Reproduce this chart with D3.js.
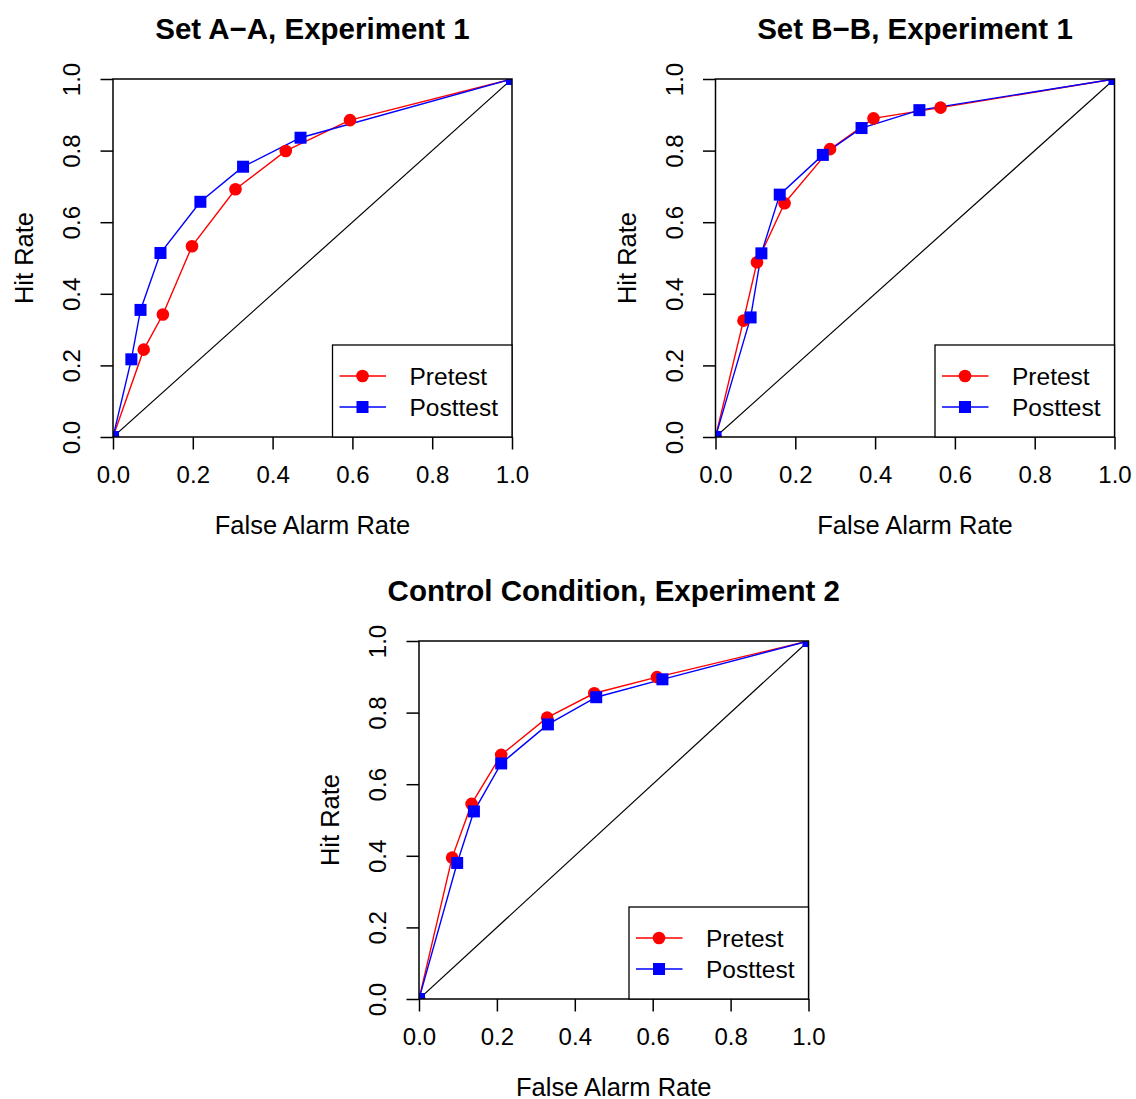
<!DOCTYPE html>
<html>
<head>
<meta charset="utf-8">
<script src="https://cdn.jsdelivr.net/npm/d3@7"></script>
<style>
  body { margin: 0; background: #fff; }
  svg { display: block; font-family: "Liberation Sans", Arial, sans-serif; }
</style>
</head>
<body>
<svg id="chart" width="1136" height="1099"></svg>
<script>
// ROC points (false alarm rate, hit rate)
const titles = ["Set A\u2212A, Experiment 1", "Set B\u2212B, Experiment 1", "Control Condition, Experiment 2"];
const seriesNames = ["Pretest", "Posttest"];
const tickValues = [0, 0.2, 0.4, 0.6, 0.8, 1.0];

const preA = [[0, 0], [0.077, 0.244], [0.125, 0.342], [0.198, 0.533], [0.307, 0.692], [0.433, 0.799], [0.594, 0.885], [1, 1]];
const postA = [[0, 0], [0.046, 0.217], [0.069, 0.355], [0.119, 0.514], [0.219, 0.657], [0.326, 0.755], [0.470, 0.836], [1, 1]];

const preB = [[0, 0], [0.070, 0.325], [0.104, 0.488], [0.173, 0.653], [0.287, 0.804], [0.396, 0.890], [0.564, 0.920], [1, 1]];
const postB = [[0, 0], [0.088, 0.334], [0.115, 0.513], [0.161, 0.677], [0.269, 0.788], [0.366, 0.863], [0.511, 0.913], [1, 1]];

const preC = [[0, 0], [0.085, 0.395], [0.135, 0.545], [0.211, 0.682], [0.329, 0.786], [0.450, 0.854], [0.611, 0.899], [1, 1]];
const postC = [[0, 0], [0.098, 0.380], [0.141, 0.524], [0.211, 0.658], [0.331, 0.767], [0.455, 0.843], [0.625, 0.893], [1, 1]];

const panels = [
    { title: titles[0], pre: preA, post: postA, left: 113, top: 79, w: 399, h: 358 },
    { title: titles[1], pre: preB, post: postB, left: 715.5, top: 79, w: 399, h: 358 },
    { title: titles[2], pre: preC, post: postC, left: 419, top: 641, w: 389.5, h: 358 }
];

const colors = ["#ff0000", "#0000ff"];
const svg = d3.select("#chart");

panels.forEach((p, i) => {
    const g = svg.append("g").attr("transform", `translate(${p.left},${p.top})`);
    const x = d3.scaleLinear().domain([0, 1]).range([0, p.w]);
    const y = d3.scaleLinear().domain([0, 1]).range([p.h, 0]);

    g.append("clipPath").attr("id", "clip" + i)
        .append("rect").attr("width", p.w).attr("height", p.h);

    const plot = g.append("g").attr("clip-path", `url(#clip${i})`);

    // chance diagonal
    plot.append("line")
        .attr("x1", x(0)).attr("y1", y(0)).attr("x2", x(1)).attr("y2", y(1))
        .attr("stroke", "#000").attr("stroke-width", 1.2);

    const line = d3.line().x(d => x(d[0])).y(d => y(d[1]));

    [p.pre, p.post].forEach((data, k) => {
        plot.append("path").datum(data)
            .attr("d", line)
            .attr("fill", "none")
            .attr("stroke", colors[k])
            .attr("stroke-width", 1.4);
    });

    plot.selectAll(".pre").data(p.pre).enter().append("circle")
        .attr("cx", d => x(d[0])).attr("cy", d => y(d[1]))
        .attr("r", 6.3).attr("fill", colors[0]);

    plot.selectAll(".post").data(p.post).enter().append("rect")
        .attr("x", d => x(d[0]) - 6).attr("y", d => y(d[1]) - 6)
        .attr("width", 12).attr("height", 12).attr("fill", colors[1]);

    // axes
    const xAxis = g.append("g").attr("transform", `translate(0,${p.h})`)
        .call(d3.axisBottom(x).tickValues(tickValues).tickFormat(d3.format(".1f")).tickSize(12.5).tickPadding(0));
    xAxis.select(".domain").remove();
    xAxis.selectAll("line").attr("stroke-width", 1.5);
    xAxis.selectAll("text").attr("y", 46).attr("dy", null)
        .attr("font-size", 24).attr("fill", "#000").attr("font-family", null);

    const yAxis = g.append("g")
        .call(d3.axisLeft(y).tickValues(tickValues).tickFormat(d3.format(".1f")).tickSize(12.5));
    yAxis.select(".domain").remove();
    yAxis.selectAll("line").attr("stroke-width", 1.5);
    yAxis.selectAll("text")
        .attr("x", 0).attr("y", -33).attr("dy", null)
        .attr("transform", "rotate(-90)")
        .attr("text-anchor", "middle")
        .attr("font-size", 24).attr("fill", "#000").attr("font-family", null);

    // box
    g.append("rect").attr("width", p.w).attr("height", p.h)
        .attr("fill", "none").attr("stroke", "#000").attr("stroke-width", 1.5);

    // labels
    g.append("text").attr("x", p.w / 2).attr("y", p.h + 96.5)
        .attr("text-anchor", "middle").attr("font-size", 25.5)
        .text("False Alarm Rate");
    g.append("text")
        .attr("transform", `translate(-80,${p.h / 2}) rotate(-90)`)
        .attr("text-anchor", "middle").attr("font-size", 25.5)
        .text("Hit Rate");
    g.append("text").attr("x", p.w / 2).attr("y", -40)
        .attr("text-anchor", "middle").attr("font-size", 29.5).attr("font-weight", "bold")
        .text(p.title);

    // legend
    const lg = g.append("g").attr("transform", `translate(${p.w - 179.5},${p.h - 92})`);
    lg.append("rect").attr("width", 179.5).attr("height", 92)
        .attr("fill", "#fff").attr("stroke", "#000").attr("stroke-width", 1.3);
    seriesNames.forEach((name, k) => {
        const yy = 31 + k * 31;
        lg.append("line").attr("x1", 7).attr("x2", 53.5).attr("y1", yy).attr("y2", yy)
            .attr("stroke", colors[k]).attr("stroke-width", 1.4);
        if (k === 0) {
            lg.append("circle").attr("cx", 30).attr("cy", yy).attr("r", 6.3).attr("fill", colors[k]);
        } else {
            lg.append("rect").attr("x", 24).attr("y", yy - 6).attr("width", 12).attr("height", 12).attr("fill", colors[k]);
        }
        lg.append("text").attr("x", 77).attr("y", yy).attr("dy", "0.36em")
            .attr("font-size", 24.5).text(name);
    });
});
</script>
</body>
</html>
